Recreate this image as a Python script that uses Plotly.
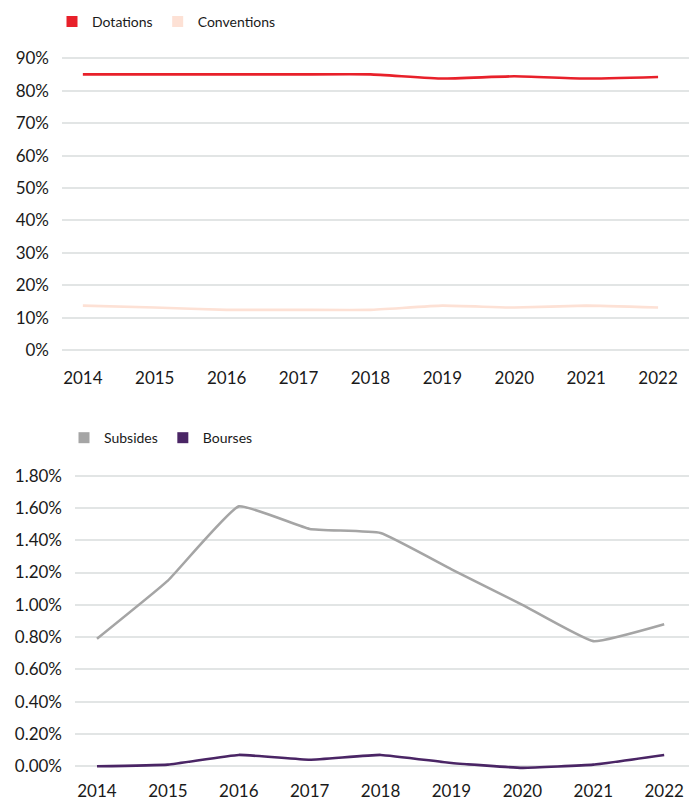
import plotly.graph_objects as go

years = [2014, 2015, 2016, 2017, 2018, 2019, 2020, 2021, 2022]

# Top chart (share, fraction)
dotations = [0.851, 0.851, 0.851, 0.851, 0.851, 0.838, 0.845, 0.838, 0.843]
conventions = [0.137, 0.131, 0.124, 0.124, 0.124, 0.137, 0.131, 0.137, 0.131]

# Bottom chart (share, fraction)
subsides = [0.0079, 0.0115, 0.0161, 0.0147, 0.01445, 0.0122, 0.0100, 0.00775, 0.0088]
bourses = [0.0000, 0.0001, 0.0007, 0.0004, 0.0007, 0.0002, -0.0001, 0.0001, 0.0007]

top_ticks = [0, 0.1, 0.2, 0.3, 0.4, 0.5, 0.6, 0.7, 0.8, 0.9]
bottom_ticks = [0, 0.002, 0.004, 0.006, 0.008, 0.010, 0.012, 0.014, 0.016, 0.018]

W, H = 689, 802
FONT = "Lato"
TXT = "#1a1a1a"
GRID = "#e2e5e5"

C_DOT = "#e8202a"
C_CONV = "#fde1d5"
C_SUB = "#a5a5a5"
C_BOU = "#4a2565"

fig = go.Figure()

def line(x, y, color, xa, ya):
    return go.Scatter(x=x, y=y, mode="lines", xaxis=xa, yaxis=ya,
                      line=dict(color=color, width=2.6, shape="spline", smoothing=0.35),
                      showlegend=False, hoverinfo="skip")

def leg(name, color, legend):
    return go.Scatter(x=[None], y=[None], mode="markers", name=name, legend=legend,
                      marker=dict(symbol="square", size=11, color=color), hoverinfo="skip")

fig.add_trace(line(years, conventions, C_CONV, "x", "y"))
fig.add_trace(line(years, dotations, C_DOT, "x", "y"))
fig.add_trace(line(years, bourses, C_BOU, "x2", "y2"))
fig.add_trace(line(years, subsides, C_SUB, "x2", "y2"))

fig.add_trace(leg("Dotations", C_DOT, "legend"))
fig.add_trace(leg("Conventions", C_CONV, "legend"))
fig.add_trace(leg("Subsides", C_SUB, "legend2"))
fig.add_trace(leg("Bourses", C_BOU, "legend2"))

def px_x(p):
    return p / W

def px_y(p):
    return 1 - p / H

# plot geometry in pixels
t_left, t_top, t_bot = 62, 48, 355
b_left, b_top, b_bot = 75, 470, 779

tick_font = dict(family=FONT, size=17, color=TXT)

fig.update_layout(
    width=W, height=H,
    margin=dict(l=0, r=0, t=0, b=0),
    paper_bgcolor="white", plot_bgcolor="white",
    font=dict(family=FONT, color=TXT),
    xaxis=dict(domain=[px_x(t_left), 1], range=[2013.71, 2022.43],
               tickvals=years, ticktext=[str(v) for v in years],
               showgrid=False, zeroline=False, showline=False, ticks="",
               tickfont=tick_font, ticklabelstandoff=10),
    yaxis=dict(domain=[px_y(t_bot), px_y(t_top)], range=[-0.0186, 0.9186],
               tickvals=top_ticks, ticktext=[f"{int(round(v*100))}%" for v in top_ticks],
               showgrid=True, gridcolor=GRID, gridwidth=2.2, zeroline=False,
               showline=False, ticks="", tickfont=tick_font, ticklabelstandoff=12),
    xaxis2=dict(domain=[px_x(b_left), 1], range=[2013.69, 2022.35], anchor="y2",
                tickvals=years, ticktext=[str(v) for v in years],
                showgrid=False, zeroline=False, showline=False, ticks="",
                tickfont=tick_font, ticklabelstandoff=4),
    yaxis2=dict(domain=[px_y(b_bot), px_y(b_top)], range=[-0.00056, 0.01837], anchor="x2",
                tickvals=bottom_ticks, ticktext=[f"{v*100:.2f}%" for v in bottom_ticks],
                showgrid=True, gridcolor=GRID, gridwidth=2.2, zeroline=False,
                showline=False, ticks="", tickfont=tick_font, ticklabelstandoff=12),
    legend=dict(orientation="h", x=px_x(52), y=px_y(17), xanchor="left", yanchor="middle",
                font=dict(family=FONT, size=14, color=TXT), bgcolor="rgba(0,0,0,0)",
                itemclick=False, itemdoubleclick=False, itemwidth=30),
    legend2=dict(orientation="h", x=px_x(64), y=px_y(438), xanchor="left", yanchor="middle",
                 font=dict(family=FONT, size=14, color=TXT), bgcolor="rgba(0,0,0,0)",
                 itemclick=False, itemdoubleclick=False, itemwidth=30),
)

fig.write_html("out.html", config={"displayModeBar": False},
               post_script="document.body.style.margin='0';document.body.style.overflow='hidden';")
